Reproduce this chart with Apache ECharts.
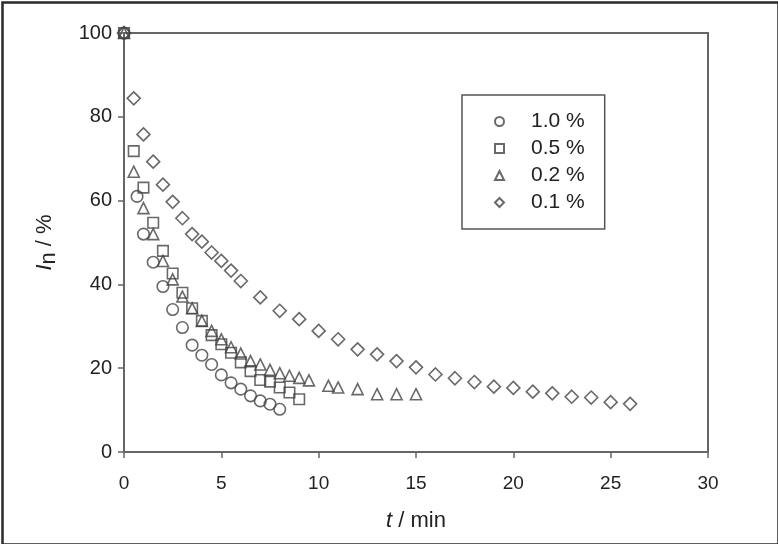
<!DOCTYPE html>
<html lang="en" style="height: 100%">
<head>
    <meta http-equiv="Content-Type" content="text/html; charset=utf-8"/>
    <title>In vs t</title>
    <script type="text/javascript" src="https://cdn.jsdelivr.net/npm/echarts@6/dist/echarts.min.js"></script>
</head>
<body style="height: 100%; margin: 0">
<div id="container" style="width: 778px; height: 544px"></div>
<script type="text/javascript">
    // values: [t (min), In (%)]
    var seriesNames = ['1.0 %', '0.5 %', '0.2 %', '0.1 %'];
    var c10 = [[0, 100], [0.67, 61], [1, 52], [1.5, 45.3], [2, 39.5], [2.5, 34], [3, 29.7], [3.5, 25.5],
        [4, 23.1], [4.5, 20.9], [5, 18.4], [5.5, 16.5], [6, 15], [6.5, 13.4], [7, 12.2], [7.5, 11.4], [8, 10.2]];
    var c05 = [[0, 100], [0.5, 71.8], [1, 63.1], [1.5, 54.7], [2, 48], [2.5, 42.6], [3, 38], [3.5, 34.3],
        [4, 31.3], [4.5, 27.9], [5, 25.7], [5.5, 23.7], [6, 21.4], [6.5, 19.3], [7, 17.2], [7.5, 16.8],
        [8, 15.4], [8.5, 14.2], [9, 12.6]];
    var c02 = [[0, 100], [0.5, 66.9], [1, 58.2], [1.5, 52], [2, 45.6], [2.5, 41.2], [3, 37.1], [3.5, 34.3],
        [4, 31.3], [4.5, 28.9], [5, 26.9], [5.5, 25], [6, 23.5], [6.5, 21.7], [7, 20.9], [7.5, 19.6],
        [8, 18.8], [8.5, 18.2], [9, 17.7], [9.5, 17.1], [10.5, 15.8], [11, 15.4], [12, 15], [13, 13.8],
        [14, 13.8], [15, 13.8]];
    var c01 = [[0, 100], [0.5, 84.4], [1, 75.8], [1.5, 69.3], [2, 63.8], [2.5, 59.7], [3, 55.8], [3.5, 52],
        [4, 50.2], [4.5, 47.6], [5, 45.6], [5.5, 43.3], [6, 40.8], [7, 36.9], [8, 33.7], [9, 31.7],
        [10, 28.9], [11, 26.9], [12, 24.5], [13, 23.3], [14, 21.7], [15, 20.2], [16, 18.5], [17, 17.6],
        [18, 16.7], [19, 15.6], [20, 15.3], [21, 14.4], [22, 14], [23, 13.2], [24, 13], [25, 11.9], [26, 11.5]];
    var symbols = ['circle', 'rect', 'triangle', 'diamond'];
    var sizes = [11.5, 10.5, 11, 13];
    var allData = [c10, c05, c02, c01];

    var font = 'Liberation Sans, Arial, sans-serif';
    var axisGray = '#666';
    var textColor = '#222';

    var series = allData.map(function (d, i) {
        return {
            name: seriesNames[i],
            type: 'scatter',
            data: d,
            symbol: symbols[i],
            symbolSize: sizes[i],
            itemStyle: {
                color: 'rgba(0,0,0,0)',
                borderColor: '#444',
                borderWidth: 1.6
            }
        };
    });

    var myChart = echarts.init(document.getElementById('container'));
    var option = {
        backgroundColor: '#fff',
        animation: false,
        textStyle: {fontFamily: font},
        grid: {
            left: 124, right: 70, top: 33, bottom: 92,
            show: true, borderColor: axisGray, borderWidth: 2
        },
        legend: {
            data: seriesNames,
            orient: 'vertical',
            left: 462, top: 95,
            padding: [16, 20, 16, 32],
            borderColor: '#555', borderWidth: 1.5,
            itemWidth: 9, itemHeight: 9, itemGap: 6,
            textStyle: {fontSize: 21, color: textColor, padding: [0, 0, 0, 22]}
        },
        xAxis: {
            type: 'value', min: 0, max: 30, interval: 5,
            name: '{i|t} / min', nameLocation: 'middle', nameGap: 58,
            nameTextStyle: {
                fontSize: 22, color: textColor,
                rich: {i: {fontSize: 22, fontStyle: 'italic', color: textColor}}
            },
            axisLine: {lineStyle: {color: axisGray, width: 2}},
            axisTick: {length: 6, lineStyle: {color: axisGray, width: 1.5}},
            axisLabel: {fontSize: 19, color: textColor, margin: 22},
            splitLine: {show: false}
        },
        yAxis: {
            type: 'value', min: 0, max: 100, interval: 20,
            name: '{i|I}{s|n} / %', nameLocation: 'middle', nameGap: 64, nameRotate: 90,
            nameTextStyle: {
                fontSize: 22, color: textColor,
                rich: {
                    i: {fontSize: 22, fontStyle: 'italic', color: textColor},
                    s: {fontSize: 22, color: textColor, verticalAlign: 'bottom', padding: [8, 0, 0, 0]}
                }
            },
            axisLine: {show: true, lineStyle: {color: axisGray, width: 2}},
            axisTick: {show: true, length: 6, lineStyle: {color: axisGray, width: 1.5}},
            axisLabel: {fontSize: 20, color: textColor, margin: 12},
            splitLine: {show: false}
        },
        graphic: [{
            type: 'rect', left: 0, top: 0, silent: true,
            shape: {x: 1, y: 1, width: 776, height: 542},
            style: {fill: 'none', stroke: '#2a2a2a', lineWidth: 2.5}
        }],
        series: series
    };
    myChart.setOption(option, true);
</script>
</body>
</html>
